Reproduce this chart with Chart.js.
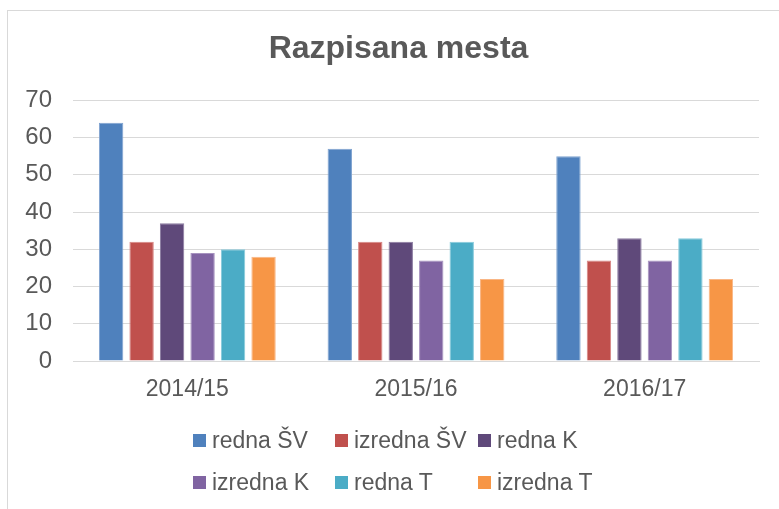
<!DOCTYPE html>
<html>
<head>
<meta charset="utf-8">
<script src="https://cdn.jsdelivr.net/npm/chart.js@4/dist/chart.umd.min.js"></script>
<style>
  html, body { margin: 0; padding: 0; background: #fff; }
  #wrap { position: relative; width: 779px; height: 509px; overflow: hidden; }
  #frame { position: absolute; left: 7px; top: 10px; width: 900px; height: 600px;
           border: 1px solid #d9d9d9; box-sizing: border-box; }
  #priceChart { position: absolute; left: 0; top: 0; }
  .lg { position: absolute; font: 23px "Liberation Sans", Arial, sans-serif; color: #595959;
        white-space: nowrap; line-height: 26px; }
  .lg i { position: absolute; left: 0; top: 7px; width: 13px; height: 13px; }
  .lg span { position: absolute; left: 19px; top: 0; }
</style>
</head>
<body>
<div id="wrap">
  <div id="frame"></div>
  <canvas id="priceChart" width="779" height="509"></canvas>
  <div id="legend"></div>
</div>
<script>
/* ───────────────────────────── data */
const titleText  = 'Razpisana mesta';
const years      = ['2014/15', '2015/16', '2016/17'];
const seriesName = ['redna ŠV', 'izredna ŠV', 'redna K', 'izredna K', 'redna T', 'izredna T'];
const rednaSV    = [64, 57, 55];
const izrednaSV  = [32, 32, 27];
const rednaK     = [37, 32, 33];
const izrednaK   = [29, 27, 27];
const rednaT     = [30, 32, 33];
const izrednaT   = [28, 22, 22];
const yTicks     = [0, 10, 20, 30, 40, 50, 60, 70];

/* ───────────────────────────── styles */
const fills   = ['#4F81BD', '#C0504D', '#5F497A', '#8064A2', '#4BACC6', '#F79646'];
const borders = ['#7FA3D0', '#D88583', '#8A7AA0', '#A692BF', '#86CADB', '#F9B685'];
const TXT  = '#595959';
const GRID = '#d9d9d9';
const FONT = '"Liberation Sans", Arial, sans-serif';

const values = [rednaSV, izrednaSV, rednaK, izrednaK, rednaT, izrednaT];

// nudge the title box so its centre sits where the reference has it
const titleShift = {
  id: 'titleShift',
  afterLayout(chart) {
    if (chart.titleBlock) chart.titleBlock.left += 30;
  }
};

const ctx = document.getElementById('priceChart').getContext('2d');
const chart = new Chart(ctx, {
  type: 'bar',
  data: {
    labels: years,
    datasets: values.map((v, i) => ({
      label: seriesName[i],
      data: v,
      backgroundColor: fills[i],
      borderColor: borders[i],
      borderWidth: 1,
      categoryPercentage: 0.8,
      barPercentage: 0.8
    }))
  },
  options: {
    responsive: false,
    animation: false,
    layout: { padding: { left: 8, right: 20, top: 0, bottom: 0 } },
    plugins: {
      legend: { display: false },
      tooltip: { enabled: false },
      title: {
        display: true,
        text: titleText,
        color: TXT,
        font: { family: FONT, size: 32, weight: 'bold' },
        padding: { top: 30, bottom: 32 }
      }
    },
    scales: {
      x: {
        grid: { display: false, drawTicks: false },
        border: { display: true, color: GRID, width: 1 },
        ticks: { color: TXT, font: { family: FONT, size: 23 }, padding: 15 },
        afterFit: s => { s.height = 148; }
      },
      y: {
        min: 0, max: 70,
        afterBuildTicks: s => { s.ticks = yTicks.map(v => ({ value: v })); },
        grid: { color: GRID, lineWidth: 1, drawTicks: false },
        border: { display: false },
        ticks: { color: TXT, font: { family: FONT, size: 24 }, padding: 21 },
        afterFit: s => { s.width = 65; }
      }
    }
  },
  plugins: [titleShift]
});

/* ───────────────────────────── legend (3 columns, 2 rows) */
const legend = document.getElementById('legend');
const colX = [193, 335, 478];
const rowY = [427, 469];
seriesName.forEach((name, i) => {
  const d = document.createElement('div');
  d.className = 'lg';
  d.style.left = colX[i % 3] + 'px';
  d.style.top  = rowY[Math.floor(i / 3)] + 'px';
  d.innerHTML = `<i style="background:${fills[i]}"></i><span>${name}</span>`;
  legend.appendChild(d);
});
</script>
</body>
</html>
